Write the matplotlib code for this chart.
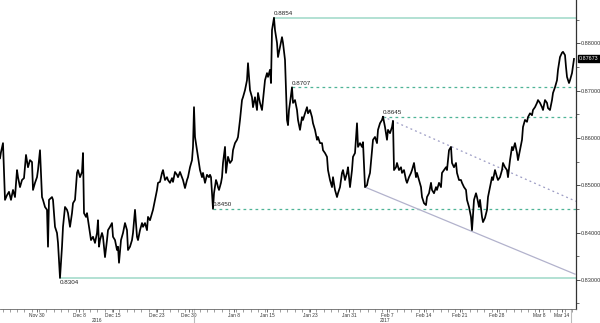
import matplotlib
matplotlib.use("Agg")
import matplotlib.pyplot as plt
import matplotlib.transforms as mtransforms
import numpy as np

plt.rcParams['font.family'] = ['Liberation Sans', 'DejaVu Sans']

# session position (trading-time axis) and EUR/GBP price
pos = [0, 1, 3, 5, 7, 9, 11, 13, 15, 17, 18, 20, 22, 24, 26, 28, 30, 32, 33, 35, 37, 38, 40, 42, 43, 45, 47, 48, 49, 52,
       53, 55, 57, 58, 60, 62, 63, 65, 67, 68, 70, 72, 73, 75, 77, 78, 80, 82, 83, 84, 86, 87, 89, 91, 93, 95, 97, 98, 99, 100,
       102, 103, 105, 107, 108, 110, 112, 113, 115, 117, 118, 119, 121, 123, 125, 127, 128, 130, 132, 133, 135, 137, 138, 140,
       142, 143, 145, 147, 148, 150, 152, 153, 155, 157, 158, 160, 162, 163, 165, 167, 168, 170, 172, 173, 175, 177, 178, 180,
       182, 183, 185, 187, 188, 190, 192, 193, 194, 195, 197, 198, 200, 202, 203, 205, 207, 209, 210, 211, 213, 214, 216, 217,
       218, 219, 221, 222, 223, 225, 226, 228, 230, 232, 233, 235, 237, 238, 240, 242, 243, 245, 247, 248, 250, 252, 253, 255,
       257, 258, 260, 262, 263, 265, 267, 268, 270, 271, 272, 274, 275, 277, 278, 280, 282, 283, 285, 287, 288, 289, 290,
       292, 293, 295, 297, 298, 300, 302, 303, 305, 307, 308, 310, 312, 313, 315, 317, 318, 320, 322, 323, 325, 327, 328, 330,
       332, 333, 335, 337, 338, 340, 342, 343, 345, 347, 348, 350, 352, 353, 355, 357, 358, 360, 362, 363, 365, 367, 368, 370,
       372, 373, 375, 377, 378, 380, 382, 383,
       385, 387, 388, 390, 392, 393, 394, 396, 397, 399, 401, 402, 404, 406, 407, 409, 411, 412, 414, 416, 417, 419, 421, 422,
       424, 426, 427, 429, 431, 432, 434, 436, 437, 439, 441, 442, 444, 446, 447, 449, 451, 452, 454, 456, 457, 459, 461, 462,
       464, 466, 467, 469, 471, 472, 473, 474, 476, 477, 479,
       480, 482, 483, 485, 487, 488, 490, 492, 493, 495, 497, 498, 500, 502, 503, 505, 507, 508, 510, 512, 513, 515, 517, 518,
       520, 522, 523, 525, 527, 528, 530, 532, 533, 535, 537, 538, 540, 542, 543, 545, 547, 548, 550, 552, 553, 555, 557, 558,
       560, 562, 563, 565, 566, 567, 569, 570, 572, 574]

price = [0.8557, 0.8570, 0.8589, 0.8469, 0.8479, 0.8486, 0.8469, 0.8490, 0.8475, 0.8532, 0.8517, 0.8496, 0.8511, 0.8515,
         0.8564, 0.8538, 0.8553, 0.8549, 0.8490, 0.8505, 0.8517, 0.8532, 0.8574, 0.8475, 0.8469, 0.8454, 0.8448, 0.8370,
         0.8469, 0.8475, 0.8469, 0.8412, 0.8399, 0.8378, 0.8304, 0.8370, 0.8412, 0.8454, 0.8448, 0.8441, 0.8412, 0.8441,
         0.8462, 0.8469, 0.8526, 0.8532, 0.8517, 0.8528, 0.8568, 0.8441, 0.8433, 0.8441, 0.8412, 0.8384, 0.8391, 0.8378,
         0.8399, 0.8426, 0.8370, 0.8384,
         0.8399, 0.8391, 0.8348, 0.8384, 0.8405, 0.8412, 0.8420, 0.8391, 0.8384, 0.8363, 0.8370, 0.8336, 0.8384, 0.8399,
         0.8420, 0.8405, 0.8363, 0.8370, 0.8384, 0.8399, 0.8448, 0.8391, 0.8384, 0.8405, 0.8420, 0.8412, 0.8420, 0.8405,
         0.8433, 0.8426, 0.8441, 0.8448, 0.8469, 0.8490, 0.8505, 0.8507, 0.8526, 0.8532, 0.8511, 0.8517, 0.8511, 0.8505,
         0.8515, 0.8507, 0.8528, 0.8522, 0.8517, 0.8528, 0.8517, 0.8511, 0.8494, 0.8511, 0.8517, 0.8538, 0.8553, 0.8581,
         0.8665, 0.8602, 0.8574, 0.8560, 0.8532, 0.8517, 0.8526, 0.8505, 0.8522, 0.8517, 0.8522, 0.8517, 0.8450, 0.8483,
         0.8511, 0.8505, 0.8496, 0.8490, 0.8505, 0.8517, 0.8547, 0.8581, 0.8526, 0.8560, 0.8547, 0.8553, 0.8574, 0.8589,
         0.8596, 0.8602, 0.8638, 0.8680, 0.8686, 0.8701, 0.8722, 0.8758, 0.8701, 0.8686, 0.8665, 0.8686, 0.8659, 0.8695,
         0.8674, 0.8659, 0.8680, 0.8722, 0.8737, 0.8729, 0.8744, 0.8716, 0.8828, 0.8854, 0.8828, 0.8801, 0.8771, 0.8792,
         0.8813, 0.8801, 0.8765, 0.8638, 0.8627, 0.8659, 0.8674,
         0.8707, 0.8674, 0.8680, 0.8659, 0.8638, 0.8617, 0.8644, 0.8638, 0.8652, 0.8665, 0.8652, 0.8659, 0.8644, 0.8631,
         0.8617, 0.8596, 0.8602, 0.8589, 0.8589, 0.8574, 0.8568, 0.8560, 0.8532, 0.8511, 0.8496, 0.8517, 0.8490, 0.8475,
         0.8483, 0.8496, 0.8526, 0.8532, 0.8511, 0.8526, 0.8538, 0.8496, 0.8532, 0.8560, 0.8568, 0.8631, 0.8581, 0.8589,
         0.8581, 0.8591, 0.8496, 0.8500, 0.8511, 0.8526, 0.8574, 0.8596, 0.8602, 0.8589, 0.8617, 0.8631, 0.8638, 0.8645,
         0.8623, 0.8596, 0.8617, 0.8610, 0.8623, 0.8636, 0.8532, 0.8538, 0.8547, 0.8532, 0.8538, 0.8526, 0.8532, 0.8511,
         0.8505, 0.8517, 0.8526, 0.8532, 0.8547, 0.8517, 0.8526, 0.8511, 0.8496, 0.8475, 0.8462, 0.8458, 0.8475, 0.8483,
         0.8505, 0.8490, 0.8483, 0.8496, 0.8490, 0.8505, 0.8496, 0.8526, 0.8532, 0.8538, 0.8532, 0.8574, 0.8581, 0.8547,
         0.8538, 0.8547, 0.8526, 0.8511, 0.8511, 0.8505, 0.8496, 0.8490, 0.8469, 0.8454, 0.8433, 0.8405, 0.8437, 0.8469,
         0.8483, 0.8475, 0.8454,
         0.8469, 0.8433, 0.8422, 0.8431, 0.8448, 0.8475, 0.8496, 0.8517, 0.8511, 0.8532, 0.8517, 0.8511, 0.8517, 0.8532,
         0.8547, 0.8538, 0.8532, 0.8517, 0.8553, 0.8581, 0.8574, 0.8589, 0.8568, 0.8553, 0.8574, 0.8596, 0.8623, 0.8638,
         0.8634, 0.8644, 0.8652, 0.8648, 0.8659, 0.8665, 0.8674, 0.8680, 0.8674, 0.8665, 0.8659, 0.8680, 0.8674, 0.8663,
         0.8659, 0.8680, 0.8695, 0.8707, 0.8722, 0.8744, 0.8771, 0.8780, 0.8782, 0.8775, 0.8750, 0.8729, 0.8716, 0.8722,
         0.8737, 0.8767]

tick_pos = [37, 79, 113, 157, 189, 234, 267, 310, 349, 387, 424, 460, 497, 539, 562]
tick_labels = ["Nov 30", "Dec 8", "Dec 15", "Dec 23", "Dec 30", "Jan 8", "Jan 15", "Jan 23",
               "Jan 31", "Feb 7", "Feb 14", "Feb 21", "Feb 28", "Mar 8", "Mar 14"]
year_labels = ["2016", "2017"]
year_pos = [97, 385]
separator_pos = [194, 571]

level_values = [0.8854, 0.8707, 0.8645, 0.8450, 0.8304]
level_start = [274, 292, 383, 213, 60]
level_dashed = [False, True, True, True, False]
level_label_below = [False, False, False, False, True]

upper_trend_pos = [383, 576]
upper_trend_val = [0.8645, 0.8466]
lower_trend_pos = [365, 575]
lower_trend_val = [0.8496, 0.8312]

last_price = 0.87673
y_ticks = [0.83, 0.84, 0.85, 0.86, 0.87, 0.88]

fig = plt.figure(figsize=(6, 3.23), dpi=100)
ax = fig.add_axes([0, 14 / 323, 575.6 / 600, 309 / 323])
ax.set_xlim(0, 575.6)
ax.set_ylim(0.82383, 0.889154)

# support / resistance levels
for v, s, dashed, below in zip(level_values, level_start, level_dashed, level_label_below):
    if dashed:
        ax.plot([s, 575.6], [v, v], color='#4fb497', lw=0.9, dashes=(2.2, 2.6), zorder=1)
    else:
        ax.plot([s, 575.6], [v, v], color='#9ed8c8', lw=1.1, zorder=1)
    ax.text(s, v + (-0.0004 if below else 0.0003), f"{v:.4f}", fontsize=4.5, color='#222222',
            ha='left', va='top' if below else 'bottom', zorder=3)

# trend lines
ax.plot(upper_trend_pos, upper_trend_val, color='#9c9cc4', lw=0.9, dashes=(1.5, 2.5), zorder=1)
ax.plot(lower_trend_pos, lower_trend_val, color='#b2b2cc', lw=0.9, zorder=1)

# price
ax.plot(pos, price, color='black', lw=1.25, zorder=2)

# spines
for side in ['left', 'top']:
    ax.spines[side].set_visible(False)
ax.spines['right'].set_color('#333333')
ax.spines['right'].set_linewidth(0.9)
ax.spines['bottom'].set_color('#666666')
ax.spines['bottom'].set_linewidth(0.6)

# y axis on the right
ax.yaxis.tick_right()
ax.set_yticks(y_ticks)
ax.set_yticklabels([f"{t:.5f}" for t in y_ticks])
ax.set_yticks([0.825, 0.835, 0.845, 0.855, 0.865, 0.875, 0.885], minor=True)
ax.tick_params(axis='y', which='major', length=3, width=0.6, pad=1, labelsize=4.0, colors='#333333')
ax.tick_params(axis='y', which='minor', length=2, width=0.5, colors='#333333')

# x axis
ax.set_xticks(tick_pos)
ax.set_xticklabels(tick_labels)
ax.set_xticks(np.arange(2.5, 575, 7.3), minor=True)
ax.tick_params(axis='x', which='major', length=2.5, width=0.5, pad=0.3, labelsize=3.5, colors='#333333')
ax.tick_params(axis='x', which='minor', length=1.8, width=0.5, colors='#777777')
for lab in ax.get_xticklabels():
    lab.set_family(['Liberation Sans Narrow', 'Liberation Sans', 'DejaVu Sans'])

blend = mtransforms.blended_transform_factory(ax.transData, fig.transFigure)
for yl, yp in zip(year_labels, year_pos):
    ax.text(yp, 0.5 / 323, yl, transform=blend, fontsize=3.4, ha='center', va='bottom', color='#333333',
            family=['Liberation Sans Narrow', 'Liberation Sans', 'DejaVu Sans'])
for sp in separator_pos:
    ax.plot([sp, sp], [0, 14 / 323], transform=blend, color='#bbbbbb', lw=0.8, clip_on=False)

# last price tag
blend_y = mtransforms.blended_transform_factory(ax.transAxes, ax.transData)
ax.text(1.006, last_price, f"{last_price:.5f}", transform=blend_y, fontsize=3.9, color='white',
        ha='left', va='center', bbox=dict(boxstyle='square,pad=0.2', fc='black', ec='black'))

fig.savefig('out.png', dpi=100)
